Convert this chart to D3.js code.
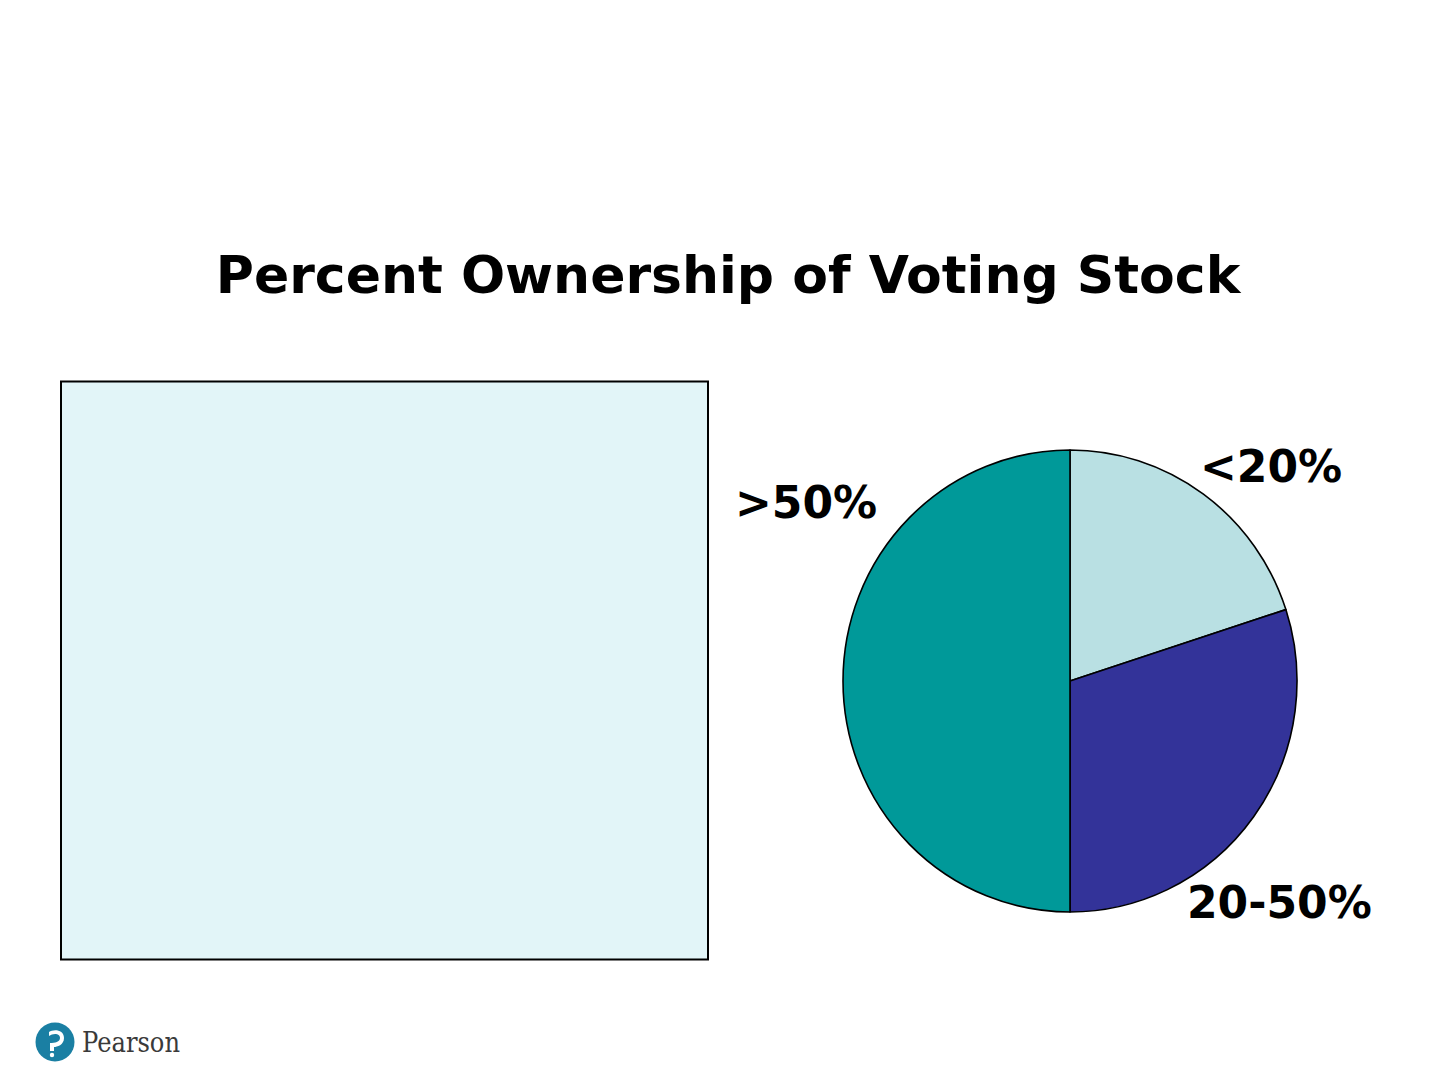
<!DOCTYPE html>
<html>
<head>
<meta charset="utf-8">
<script src="https://cdn.jsdelivr.net/npm/d3@7"></script>
<style>
  html, body { margin: 0; padding: 0; background: #ffffff; }
  svg { display: block; }
</style>
</head>
<body>
<script>
const categories = ["<20%", "20-50%", ">50%"];
const values = [20, 30, 50];
const colors = ["#b9e0e3", "#333399", "#009999"];
const titleText = "Percent Ownership of Voting Stock";

const W = 1440, H = 1080;
const svg = d3.select("body").append("svg").attr("width", W).attr("height", H);

// Title
svg.append("text")
  .attr("x", 728).attr("y", 293)
  .attr("text-anchor", "middle")
  .style("font-family", "'DejaVu Sans', Verdana, sans-serif")
  .style("font-weight", "bold")
  .style("font-size", "52px")
  .attr("fill", "#000")
  .text(titleText);

// Left box
svg.append("rect")
  .attr("x", 61).attr("y", 381.5)
  .attr("width", 647).attr("height", 578)
  .attr("fill", "#e2f5f8")
  .attr("stroke", "#000")
  .attr("stroke-width", 2);

// Pie
const cx = 1070, cy = 681, rx = 227, ry = 231;
const pie = d3.pie().sort(null).value(d => d)(values);
const arc = d3.arc().innerRadius(0).outerRadius(ry);
const g = svg.append("g")
  .attr("transform", `translate(${cx},${cy}) scale(${rx / ry},1)`);
g.selectAll("path")
  .data(pie)
  .join("path")
  .attr("d", arc)
  .attr("fill", (d, i) => colors[i])
  .attr("stroke", "#000")
  .attr("stroke-width", 1.6)
  .attr("vector-effect", "non-scaling-stroke")
  .attr("stroke-linejoin", "round");

// Labels
const labelPos = [
  { x: 1200, y: 482 },
  { x: 1187, y: 918 },
  { x: 735, y: 518 }
];
svg.selectAll("text.lbl")
  .data(categories)
  .join("text")
  .attr("class", "lbl")
  .attr("x", (d, i) => labelPos[i].x)
  .attr("y", (d, i) => labelPos[i].y)
  .style("font-family", "'DejaVu Sans', Verdana, sans-serif")
  .style("font-weight", "bold")
  .style("font-size", "44px")
  .attr("fill", "#000")
  .text(d => d);

// Pearson logo
const logo = svg.append("g").attr("transform", "translate(55,1042)");
logo.append("circle").attr("r", 19.5).attr("fill", "#1a7fa3");
logo.append("path")
  .attr("d", "M-6,-10 C-2,-13 9,-13 9,-4 C9,3 2,5 -1,5 L-1,9 L-5,9 L-5,1 C0,1 5,0 5,-4 C5,-9 -2,-9 -6,-6 Z")
  .attr("fill", "#ffffff");
logo.append("circle").attr("cx", -3).attr("cy", 13).attr("r", 2.2).attr("fill", "#ffffff");
svg.append("text")
  .attr("x", 82).attr("y", 1052)
  .style("font-family", "'DejaVu Serif', 'Liberation Serif', serif")
  .style("font-size", "27px")
  .attr("fill", "#3a3a3a")
  .attr("textLength", 98)
  .attr("lengthAdjust", "spacingAndGlyphs")
  .text("Pearson");
</script>
</body>
</html>
